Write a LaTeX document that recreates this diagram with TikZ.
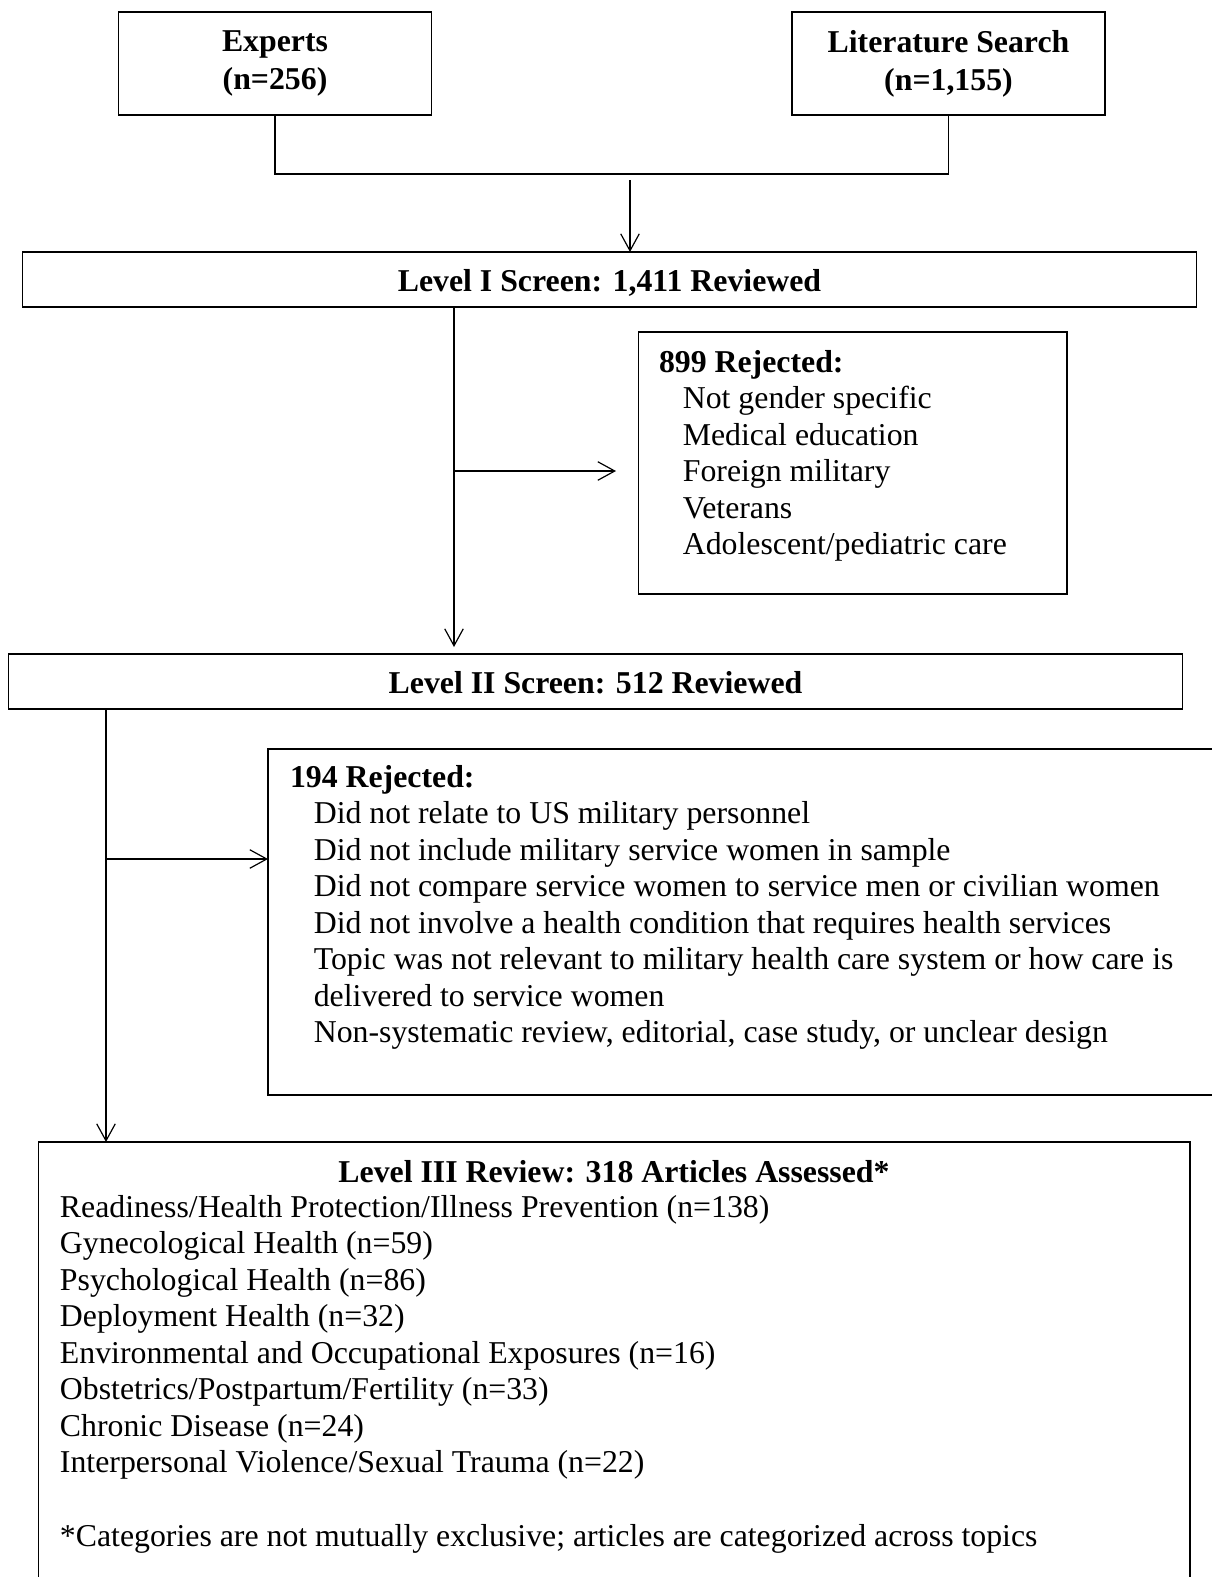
\documentclass[tikz,border=0pt]{standalone}
\usepackage{fontspec}
\setmainfont{Liberation Serif}
\usetikzlibrary{arrows.meta}
\newcommand\pxu{0.3774pt}
\newcommand\indt{\hspace*{9pt}}
\begin{document}
\begin{tikzpicture}[x=0.3774pt, y=-0.3774pt,
  txt/.style={font=\fontsize{12}{13.8}\selectfont, inner sep=0pt, outer sep=0pt},
  box/.style={txt, draw, line width=0.55pt, align=center},
  srcbox/.style={box, font=\fontsize{12}{14.4}\selectfont, minimum width=313*\pxu, minimum height=103*\pxu},
  lvlbox/.style={box, text height=9.2pt, text depth=0pt, minimum width=1174*\pxu, minimum height=55*\pxu},
  list/.style={txt, align=flush left, anchor=base west},
  link/.style={line width=0.5pt},
  arr/.style={line width=0.45pt, -{Straight Barb[length=6.4pt,width=7pt]}}]
\useasboundingbox (0,0) rectangle (1212,1577);
\node[srcbox] (experts) at (275,63.5){\textbf{Experts}\\\textbf{(n=256)}};
\node[srcbox] (lit) at (948.5,63.5){\textbf{Literature Search}\\\textbf{(n=1,155)}};
\draw[link](experts.south) -- ++(0,59) -| (lit.south);
\node[lvlbox] (lvl1) at (609.5,279.5){\textbf{Level I Screen: 1,411 Reviewed}};
\coordinate (merge) at (630,180);
\draw[arr](merge) -- (lvl1.north -| merge);
\node[box, minimum width=428.5*\pxu, minimum height=262*\pxu] (rej1) at (852.75,463){};
\node[list, text width=390*\pxu] (rej1txt) at (659,372){\textbf{899 Rejected:}\\
\indt Not gender specific\\
\indt Medical education\\
\indt Foreign military\\
\indt Veterans\\
\indt Adolescent/pediatric care};
\node[lvlbox] (lvl2) at (595.5,681.5){\textbf{Level II Screen: 512 Reviewed}};
\coordinate (trunk1) at (454,647);
\coordinate (split1) at (454,471);
\coordinate (tip1) at (616,471);
\draw[arr](lvl1.south -| trunk1) -- (trunk1);
\draw[arr](split1) -- (tip1);
\node[box, minimum width=972*\pxu, minimum height=346*\pxu] (rej2) at (754,922){};
\node[list, text width=920*\pxu] (rej2txt) at (290,787){\textbf{194 Rejected:}\\
\indt Did not relate to US military personnel\\
\indt Did not include military service women in sample\\
\indt Did not compare service women to service men or civilian women\\
\indt Did not involve a health condition that requires health services\\
\indt Topic was not relevant to military health care system or how care is\\
\indt delivered to service women\\
\indt Non-systematic review, editorial, case study, or unclear design};
\node[box, minimum width=1151.4*\pxu, minimum height=468*\pxu] (lvl3) at (614.3,1376){};
\coordinate (trunk2) at (106,1100);
\coordinate (split2) at (106,859);
\draw[arr](lvl2.south -| trunk2) -- (lvl3.north -| trunk2);
\draw[arr](split2) -- (rej2.west |- split2);
\node[txt, anchor=base] (lvl3title) at (614,1182){\textbf{Level III Review: 318 Articles Assessed*}};
\node[list, text width=1120*\pxu] (lvl3txt) at (60,1217){Readiness/Health Protection/Illness Prevention (n=138)\\
Gynecological Health (n=59)\\
Psychological Health (n=86)\\
Deployment Health (n=32)\\
Environmental and Occupational Exposures (n=16)\\
Obstetrics/Postpartum/Fertility (n=33)\\
Chronic Disease (n=24)\\
Interpersonal Violence/Sexual Trauma (n=22)\\[13.8pt]
*Categories are not mutually exclusive; articles are categorized across topics};
\end{tikzpicture}
\end{document}
